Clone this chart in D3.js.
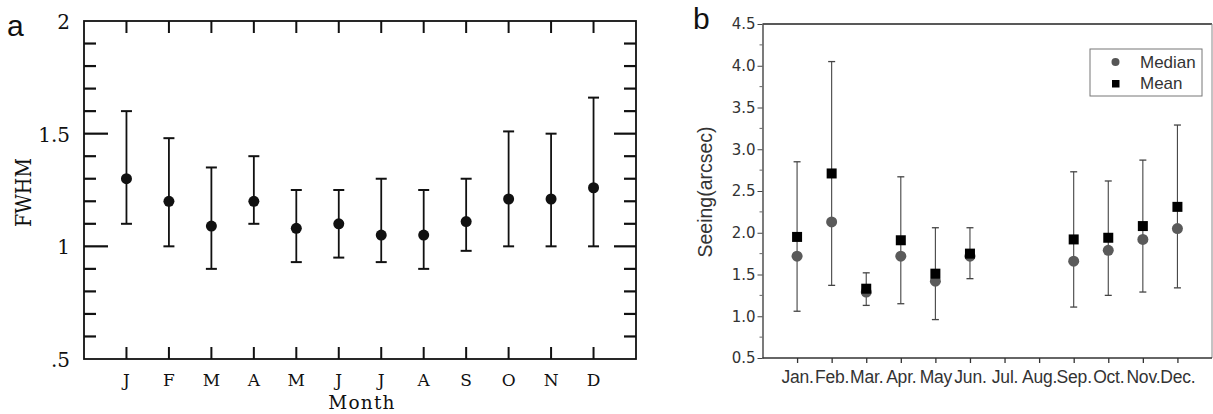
<!DOCTYPE html>
<html lang="en">
  <head>
    <meta charset="UTF-8" />
    <title>FWHM and seeing by month</title>
    <script src="https://cdnjs.cloudflare.com/ajax/libs/d3/7.8.5/d3.min.js"></script>
    <style>
      body { margin: 0; background: #fff; }
      svg { display: block; }
    </style>
  </head>
  <body>
    <svg width="1213" height="414"></svg>
    <script>
      // panel a: FWHM by month
      const monthsA = ["J", "F", "M", "A", "M", "J", "J", "A", "S", "O", "N", "D"];
      const fwhm = [1.30, 1.20, 1.09, 1.20, 1.08, 1.10, 1.05, 1.05, 1.11, 1.21, 1.21, 1.26];
      const fwhmHi = [1.60, 1.48, 1.35, 1.40, 1.25, 1.25, 1.30, 1.25, 1.30, 1.51, 1.50, 1.66];
      const fwhmLo = [1.10, 1.00, 0.90, 1.10, 0.93, 0.95, 0.93, 0.90, 0.98, 1.00, 1.00, 1.00];
      const yTicksA = [0.5, 1, 1.5, 2];

      // panel b: seeing by month (null = no data)
      const monthsB = ["Jan.", "Feb.", "Mar.", "Apr.", "May", "Jun.", "Jul.", "Aug.", "Sep.", "Oct.", "Nov.", "Dec."];
      const seeMedian = [1.72, 2.13, 1.29, 1.72, 1.42, 1.72, null, null, 1.66, 1.79, 1.92, 2.05];
      const seeMean = [1.95, 2.71, 1.33, 1.91, 1.51, 1.75, null, null, 1.92, 1.94, 2.08, 2.31];
      const seeHi = [2.85, 4.05, 1.52, 2.67, 2.06, 2.06, null, null, 2.73, 2.62, 2.87, 3.29];
      const seeLo = [1.06, 1.37, 1.13, 1.15, 0.96, 1.45, null, null, 1.11, 1.25, 1.29, 1.34];
      const yTicksB = [0.5, 1.0, 1.5, 2.0, 2.5, 3.0, 3.5, 4.0, 4.5];

      const svg = d3.select("svg");

      // ---------- panel a ----------
      const serif = "'DejaVu Serif', 'Liberation Serif', serif";
      const a = { l: 84, r: 636, t: 21, b: 359 };
      const xA = d3.scaleLinear().domain([0, 13]).range([a.l, a.r]);
      const yA = d3.scaleLinear().domain([0.5, 2]).range([a.b, a.t]);
      const gA = svg.append("g");

      gA.append("rect")
        .attr("x", a.l).attr("y", a.t)
        .attr("width", a.r - a.l).attr("height", a.b - a.t)
        .attr("fill", "none").attr("stroke", "#111").attr("stroke-width", 1.8);

      // y ticks: inward on both sides, minor every 0.1
      d3.range(6, 20).map(d => d / 10).forEach(v => {
        const major = Math.abs(v * 2 - Math.round(v * 2)) < 1e-6;
        gA.append("line")
          .attr("x1", a.l).attr("x2", a.l + (major ? 24 : 12))
          .attr("y1", yA(v)).attr("y2", yA(v))
          .attr("stroke", "#111").attr("stroke-width", 2.2);
        gA.append("line")
          .attr("x1", a.r).attr("x2", a.r - (major ? 22 : 12))
          .attr("y1", yA(v)).attr("y2", yA(v))
          .attr("stroke", "#111").attr("stroke-width", 2.2);
      });

      gA.selectAll(".ylab")
        .data(yTicksA)
        .join("text")
        .attr("x", a.l - 14)
        .attr("y", d => yA(d) + 8)
        .attr("text-anchor", "end")
        .attr("font-family", serif)
        .attr("font-size", 20)
        .attr("fill", "#111")
        .text(d => (d === 0.5 ? ".5" : d3.format("")(d)));

      // x ticks at months, inward top and bottom
      monthsA.forEach((m, i) => {
        const x = xA(i + 1);
        gA.append("line").attr("x1", x).attr("x2", x)
          .attr("y1", a.b).attr("y2", a.b - 12)
          .attr("stroke", "#111").attr("stroke-width", 2);
        gA.append("line").attr("x1", x).attr("x2", x)
          .attr("y1", a.t).attr("y2", a.t + 12)
          .attr("stroke", "#111").attr("stroke-width", 2);
      });

      gA.selectAll(".xlab")
        .data(monthsA)
        .join("text")
        .attr("x", (d, i) => xA(i + 1))
        .attr("y", 386)
        .attr("text-anchor", "middle")
        .attr("font-family", serif)
        .attr("font-size", 17)
        .attr("fill", "#111")
        .text(d => d);

      gA.append("text")
        .attr("x", 362).attr("y", 409)
        .attr("text-anchor", "middle")
        .attr("font-family", serif).attr("font-size", 18.5)
        .attr("fill", "#111").attr("letter-spacing", 1.2)
        .text("Month");

      gA.append("text")
        .attr("transform", "translate(31,192.5) rotate(-90)")
        .attr("text-anchor", "middle")
        .attr("font-family", serif).attr("font-size", 23)
        .attr("textLength", 69).attr("lengthAdjust", "spacingAndGlyphs")
        .attr("fill", "#111")
        .text("FWHM");

      // error bars + points
      monthsA.forEach((m, i) => {
        const x = xA(i + 1);
        gA.append("line").attr("x1", x).attr("x2", x)
          .attr("y1", yA(fwhmLo[i])).attr("y2", yA(fwhmHi[i]))
          .attr("stroke", "#111").attr("stroke-width", 1.8);
        [fwhmLo[i], fwhmHi[i]].forEach(v => {
          gA.append("line").attr("x1", x - 5.5).attr("x2", x + 5.5)
            .attr("y1", yA(v)).attr("y2", yA(v))
            .attr("stroke", "#111").attr("stroke-width", 2);
        });
        gA.append("circle").attr("cx", x).attr("cy", yA(fwhm[i]))
          .attr("r", 5.5).attr("fill", "#111");
      });

      gA.append("text")
        .attr("x", 7).attr("y", 36)
        .attr("font-family", "'Liberation Sans', Arial, sans-serif")
        .attr("font-size", 30).attr("fill", "#111")
        .text("a");

      // ---------- panel b ----------
      const sans = "'Liberation Sans', Arial, sans-serif";
      const b = { l: 762.5, r: 1212, t: 24, b: 358 };
      const xB = d3.scaleLinear().domain([0, 13]).range([b.l, b.r]);
      const yB = d3.scaleLinear().domain([0.5, 4.5]).range([b.b, b.t]);
      const gB = svg.append("g");

      // frame: dark top and axes, light right side
      gB.append("line").attr("x1", b.l).attr("x2", b.r).attr("y1", b.t).attr("y2", b.t)
        .attr("stroke", "#222").attr("stroke-width", 1.4);
      gB.append("line").attr("x1", b.r).attr("x2", b.r).attr("y1", b.t).attr("y2", b.b)
        .attr("stroke", "#888").attr("stroke-width", 1);

      const yAxisB = d3.axisLeft(yB)
        .tickValues(yTicksB)
        .tickFormat(d3.format(".1f"))
        .tickSize(5).tickSizeOuter(0);
      const yg = gB.append("g").attr("transform", `translate(${b.l},0)`).call(yAxisB);
      yg.select(".domain").attr("stroke", "#333").attr("stroke-width", 1.3);
      yg.selectAll(".tick line").attr("stroke", "#444");
      yg.selectAll("text")
        .attr("font-family", "'DejaVu Sans', sans-serif").attr("font-size", 15)
        .attr("fill", "#333").attr("x", -7);

      // minor ticks on y
      yTicksB.slice(0, -1).forEach(v => {
        gB.append("line").attr("x1", b.l - 3).attr("x2", b.l)
          .attr("y1", yB(v + 0.25)).attr("y2", yB(v + 0.25))
          .attr("stroke", "#666");
      });

      const xAxisB = d3.axisBottom(xB)
        .tickValues(d3.range(1, 13))
        .tickFormat(d => monthsB[d - 1])
        .tickSize(5).tickSizeOuter(0);
      const xg = gB.append("g").attr("transform", `translate(0,${b.b})`).call(xAxisB);
      xg.select(".domain").attr("stroke", "#333").attr("stroke-width", 1.3)
        .attr("d", `M${b.l},0H${b.r}`);
      xg.selectAll(".tick line").attr("stroke", "#333").attr("stroke-width", 1.3);
      xg.selectAll("text")
        .attr("font-family", sans).attr("font-size", 17.5)
        .attr("fill", "#333").attr("y", 25).attr("dy", 0)
        .attr("letter-spacing", -0.2);

      gB.append("text")
        .attr("transform", `translate(712,${yB(2.5) + 1}) rotate(-90)`)
        .attr("text-anchor", "middle")
        .attr("font-family", sans).attr("font-size", 19.5)
        .attr("fill", "#333")
        .text("Seeing(arcsec)");

      monthsB.forEach((m, i) => {
        if (seeMean[i] === null) return;
        const x = xB(i + 1);
        gB.append("line").attr("x1", x).attr("x2", x)
          .attr("y1", yB(seeLo[i])).attr("y2", yB(seeHi[i]))
          .attr("stroke", "#444").attr("stroke-width", 1.1);
        [seeLo[i], seeHi[i]].forEach(v => {
          gB.append("line").attr("x1", x - 3.5).attr("x2", x + 3.5)
            .attr("y1", yB(v)).attr("y2", yB(v))
            .attr("stroke", "#444").attr("stroke-width", 1.3);
        });
        gB.append("circle").attr("cx", x).attr("cy", yB(seeMedian[i]))
          .attr("r", 5.5).attr("fill", "#5a5a5a");
        gB.append("rect")
          .attr("x", x - 5).attr("y", yB(seeMean[i]) - 5)
          .attr("width", 10).attr("height", 10).attr("fill", "#000");
      });

      // legend
      const lg = gB.append("g");
      lg.append("rect").attr("x", 1090).attr("y", 49).attr("width", 112).attr("height", 47)
        .attr("fill", "#fff").attr("stroke", "#777").attr("stroke-width", 1);
      lg.append("circle").attr("cx", 1115.5).attr("cy", 62).attr("r", 4).attr("fill", "#555");
      lg.append("rect").attr("x", 1112).attr("y", 80).attr("width", 7.5).attr("height", 7.5).attr("fill", "#000");
      lg.append("text").attr("x", 1140).attr("y", 68)
        .attr("font-family", sans).attr("font-size", 17).attr("fill", "#333").text("Median");
      lg.append("text").attr("x", 1140).attr("y", 89)
        .attr("font-family", sans).attr("font-size", 17).attr("fill", "#333").text("Mean");

      gB.append("text")
        .attr("x", 693).attr("y", 29)
        .attr("font-family", sans)
        .attr("font-size", 30).attr("fill", "#111")
        .text("b");
    </script>
  </body>
</html>
